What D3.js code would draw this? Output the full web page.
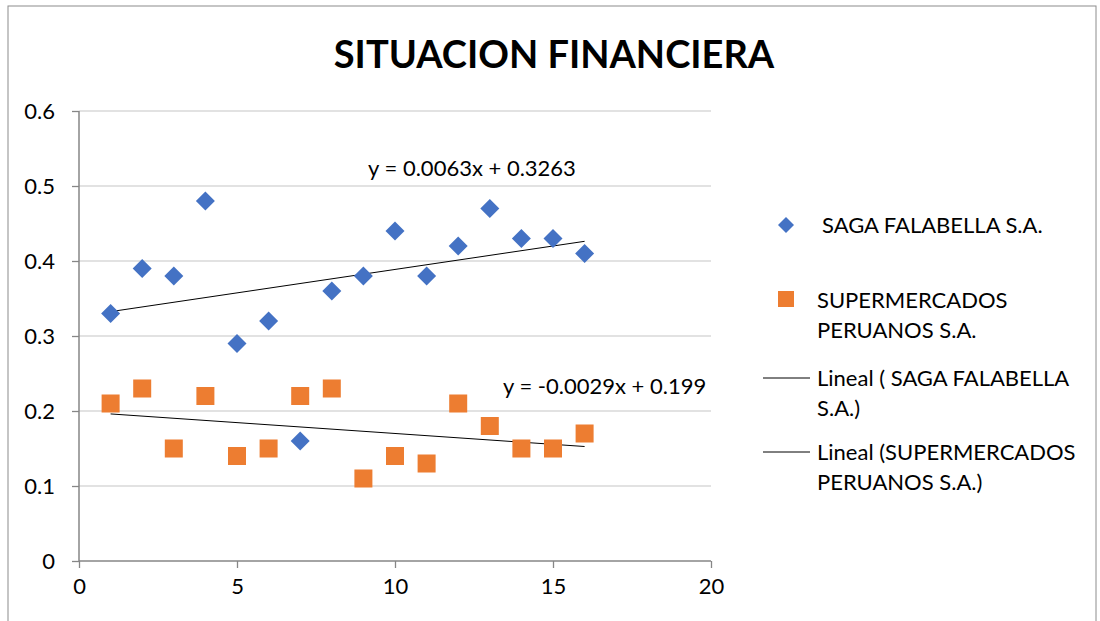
<!DOCTYPE html>
<html>
<head>
<meta charset="utf-8">
<script src="https://cdn.jsdelivr.net/npm/d3@7"></script>
<style>
  body { margin: 0; background: #fff; }
  svg { display: block; font-family: Lato, 'Open Sans', sans-serif; }
</style>
</head>
<body>
<svg id="chart" width="1100" height="621"></svg>
<script>
// data
const periods = [1, 2, 3, 4, 5, 6, 7, 8, 9, 10, 11, 12, 13, 14, 15, 16];
const saga = [0.33, 0.39, 0.38, 0.48, 0.29, 0.32, 0.16, 0.36, 0.38, 0.44, 0.38, 0.42, 0.47, 0.43, 0.43, 0.41];
const superPeru = [0.21, 0.23, 0.15, 0.22, 0.14, 0.15, 0.22, 0.23, 0.11, 0.14, 0.13, 0.21, 0.18, 0.15, 0.15, 0.17];
const xTicks = [0, 5, 10, 15, 20];
const yTicks = [0, 0.1, 0.2, 0.3, 0.4, 0.5, 0.6];
const sagaName = 'SAGA FALABELLA S.A.';
const superName = ['SUPERMERCADOS', 'PERUANOS S.A.'];
const eqSaga = 'y = 0.0063x + 0.3263';
const eqSuper = 'y = -0.0029x + 0.199';

const svg = d3.select('#chart');
const margin = { left: 79, right: 389, top: 111, bottom: 60 };
const width = 1100, height = 621;
const fs = 22;

const x = d3.scaleLinear().domain([0, 20]).range([margin.left, width - margin.right]);
const y = d3.scaleLinear().domain([0, 0.6]).range([height - margin.bottom, margin.top]);

// outer frame
svg.append('rect')
  .attr('x', 8).attr('y', 6).attr('width', 1088).attr('height', 640)
  .attr('fill', 'none').attr('stroke', '#8c8c8c').attr('stroke-width', 1);

// title
svg.append('text')
  .attr('x', 554).attr('y', 68)
  .attr('text-anchor', 'middle')
  .attr('font-size', 38).attr('font-weight', 'bold')
  .text('SITUACION FINANCIERA');

// gridlines
svg.append('g')
  .selectAll('line')
  .data(yTicks.filter(d => d > 0))
  .join('line')
  .attr('x1', x(0)).attr('x2', x(20))
  .attr('y1', d => y(d)).attr('y2', d => y(d))
  .attr('stroke', '#d9d9d9').attr('stroke-width', 1.3);

// axes
const yAxis = svg.append('g')
  .attr('transform', `translate(${x(0)},0)`)
  .call(d3.axisLeft(y).tickValues(yTicks).tickSize(7).tickPadding(17).tickFormat(d => d));
const xAxis = svg.append('g')
  .attr('transform', `translate(0,${y(0)})`)
  .call(d3.axisBottom(x).tickValues(xTicks).tickSize(7).tickPadding(10));
[xAxis, yAxis].forEach(a => {
  a.select('.domain').attr('stroke', '#868686').attr('stroke-width', 1.5);
  a.selectAll('.tick line').attr('stroke', '#868686').attr('stroke-width', 1.3);
  a.selectAll('.tick text').attr('font-size', fs).attr('fill', '#000')
    .attr('font-family', 'Lato, sans-serif');
});
yAxis.select('.domain').attr('d', `M0,${y(0)}V${y(0.6)}`);
xAxis.select('.domain').attr('d', `M${x(0)},0H${x(20)}`);

// least squares fit
function fit(xs, ys) {
  const mx = d3.mean(xs), my = d3.mean(ys);
  const b = d3.sum(xs, (v, i) => (v - mx) * (ys[i] - my)) / d3.sum(xs, v => (v - mx) ** 2);
  return { slope: b, intercept: my - b * mx };
}
const fits = [fit(periods, saga), fit(periods, superPeru)];
const x0 = d3.min(periods), x1 = d3.max(periods);
svg.append('g')
  .selectAll('line')
  .data(fits)
  .join('line')
  .attr('x1', x(x0)).attr('x2', x(x1))
  .attr('y1', d => y(d.intercept + d.slope * x0))
  .attr('y2', d => y(d.intercept + d.slope * x1))
  .attr('stroke', '#000').attr('stroke-width', 1);

// saga diamonds
const diamond = 'M0,-9.5L9.5,0L0,9.5L-9.5,0Z';
svg.append('g')
  .selectAll('path')
  .data(periods)
  .join('path')
  .attr('transform', (d, i) => `translate(${x(d)},${y(saga[i])})`)
  .attr('d', diamond)
  .attr('fill', '#4472c4');

// supermercados squares
svg.append('g')
  .selectAll('rect')
  .data(periods)
  .join('rect')
  .attr('x', d => x(d) - 9).attr('y', (d, i) => y(superPeru[i]) - 9)
  .attr('width', 18).attr('height', 18)
  .attr('fill', '#ed7d31');

// equations
svg.append('text')
  .attr('x', 472).attr('y', 176).attr('text-anchor', 'middle')
  .attr('font-size', fs).text(eqSaga);
svg.append('text')
  .attr('x', 503).attr('y', 394)
  .attr('font-size', fs).text(eqSuper);

// legend
const lg = svg.append('g').attr('font-size', fs);
lg.append('path').attr('transform', 'translate(786,225)').attr('d', 'M0,-8L8,0L0,8L-8,0Z').attr('fill', '#4472c4');
lg.append('text').attr('x', 822).attr('y', 233).text(sagaName);
lg.append('rect').attr('x', 778).attr('y', 291).attr('width', 16).attr('height', 16).attr('fill', '#ed7d31');
lg.append('text').attr('x', 817).attr('y', 308).text(superName[0]);
lg.append('text').attr('x', 817).attr('y', 338).text(superName[1]);
lg.append('line').attr('x1', 763).attr('x2', 810).attr('y1', 378).attr('y2', 378).attr('stroke', '#000').attr('stroke-width', 1);
lg.append('text').attr('x', 817).attr('y', 386).text('Lineal ( ' + sagaName.replace(' S.A.', ''));
lg.append('text').attr('x', 817).attr('y', 416).text('S.A.)');
lg.append('line').attr('x1', 763).attr('x2', 810).attr('y1', 452).attr('y2', 452).attr('stroke', '#000').attr('stroke-width', 1);
lg.append('text').attr('x', 817).attr('y', 460).text('Lineal (' + superName[0]);
lg.append('text').attr('x', 817).attr('y', 490).text(superName[1] + ')');
</script>
</body>
</html>
